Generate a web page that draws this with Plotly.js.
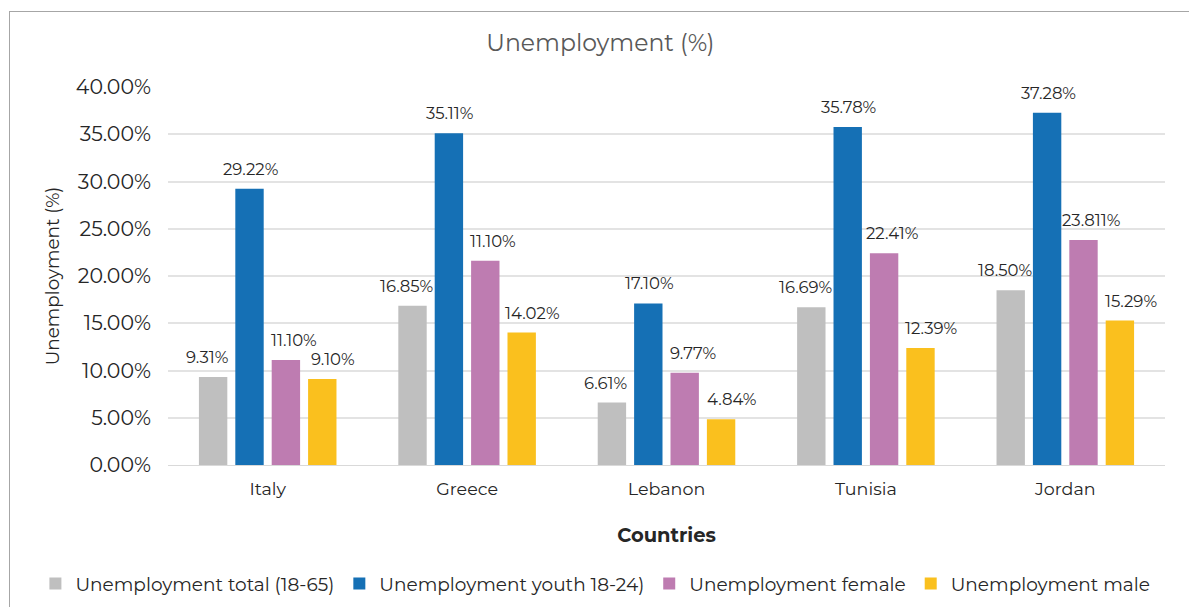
<!DOCTYPE html>
<html><head><meta charset="utf-8">
<script src="https://cdn.plot.ly/plotly-3.0.1.min.js"></script>
<style>
html,body{margin:0;padding:0;background:#fff;}
#wrap{position:relative;width:1189px;height:607px;}
#chart{width:1189px;height:607px;}
#frame{position:absolute;left:9px;top:11px;width:1185px;height:610px;border:1px solid #a6a6a6;pointer-events:none;}
</style></head>
<body><div id="wrap"><div id="chart"></div><div id="frame"></div></div>
<script>
const countries = ["Italy", "Greece", "Lebanon", "Tunisia", "Jordan"];
const seriesNames = ["Unemployment total (18-65)", "Unemployment youth 18-24)", "Unemployment female", "Unemployment male"];
const totalVals = [9.31, 16.85, 6.61, 16.69, 18.50];
const youthVals = [29.22, 35.11, 17.10, 35.78, 37.28];
const femaleVals = [11.10, 21.62, 9.77, 22.41, 23.81];
const maleVals = [9.10, 14.02, 4.84, 12.39, 15.29];
const totalLabels = ["9.31%", "16.85%", "6.61%", "16.69%", "18.50%"];
const youthLabels = ["29.22%", "35.11%", "17.10%", "35.78%", "37.28%"];
const femaleLabels = ["11.10%", "11.10%", "9.77%", "22.41%", "23.811%"];
const maleLabels = ["9.10%", "14.02%", "4.84%", "12.39%", "15.29%"];
const colors = ["#bfbfbf", "#1570b5", "#be7cb1", "#fac01e"];

const FONT = "Montserrat, Inter, 'Open Sans', sans-serif";
const vals = [totalVals, youthVals, femaleVals, maleVals];
const labs = [totalLabels, youthLabels, femaleLabels, maleLabels];
const BARGAP = 0.27, GROUPGAP = 0.22;
const LABEL_NUDGE = [-6, 1, 8, 11]; // per-series horizontal label nudge (style)
const traces = vals.map((v, i) => ({
  type: "bar", x: countries, y: v, name: seriesNames[i],
  marker: {color: colors[i]},
  hoverinfo: "skip"
}));

// data labels placed at each bar top through the axes
const plotW = 1189 - 168 - 24;
const slot = plotW / countries.length * (1 - BARGAP) / vals.length;
const annotations = [];
vals.forEach((v, i) => {
  v.forEach((val, j) => {
    annotations.push({
      x: countries[j], y: val, xref: "x", yref: "y",
      text: labs[i][j], showarrow: false,
      xanchor: "center", yanchor: "bottom",
      xshift: (i - (vals.length - 1) / 2) * slot + LABEL_NUDGE[i], yshift: 8,
      font: {family: FONT, size: 16.5, color: "#262626"}
    });
  });
});

const layout = {
  width: 1189, height: 607,
  margin: {l: 168, r: 24, t: 87, b: 142, autoexpand: false},
  paper_bgcolor: "#fff", plot_bgcolor: "#fff",
  font: {family: FONT, color: "#262626"},
  title: {text: "Unemployment (%)", font: {family: FONT, size: 23.5, color: "#595959"}, x: 0.505, xref: "container", xanchor: "center", y: 0.929, yref: "container", yanchor: "middle"},
  barmode: "group", bargap: BARGAP, bargroupgap: GROUPGAP,
  annotations: annotations,
  xaxis: {
    showgrid: false, showline: true, linecolor: "#d9d9d9", linewidth: 1,
    ticks: "", tickfont: {family: FONT, size: 17.5, color: "#262626"},
    ticklabelstandoff: 8,
    title: {text: "<b>Countries</b>", font: {family: FONT, size: 19.5, color: "#262626"}, standoff: 30}
  },
  yaxis: {
    range: [0, 40], dtick: 5, tickformat: ".2f", ticksuffix: "%",
    showgrid: true, gridcolor: "#e3e3e3", gridwidth: 2, zeroline: false,
    showline: false, ticks: "", ticklabelstandoff: 16,
    tickfont: {family: FONT, size: 20.5, color: "#262626"},
    title: {text: "Unemployment (%)", font: {family: FONT, size: 18.4, color: "#262626"}, standoff: 11}
  },
  showlegend: true,
  legend: {orientation: "h", x: -0.133, xanchor: "left", xref: "paper", y: -0.315, yref: "paper", yanchor: "middle",
    font: {family: FONT, size: 18.5, color: "#262626"}, traceorder: "normal", itemwidth: 30}
};
Plotly.newPlot("chart", traces, layout, {displayModeBar: false, staticPlot: true});
</script></body></html>
